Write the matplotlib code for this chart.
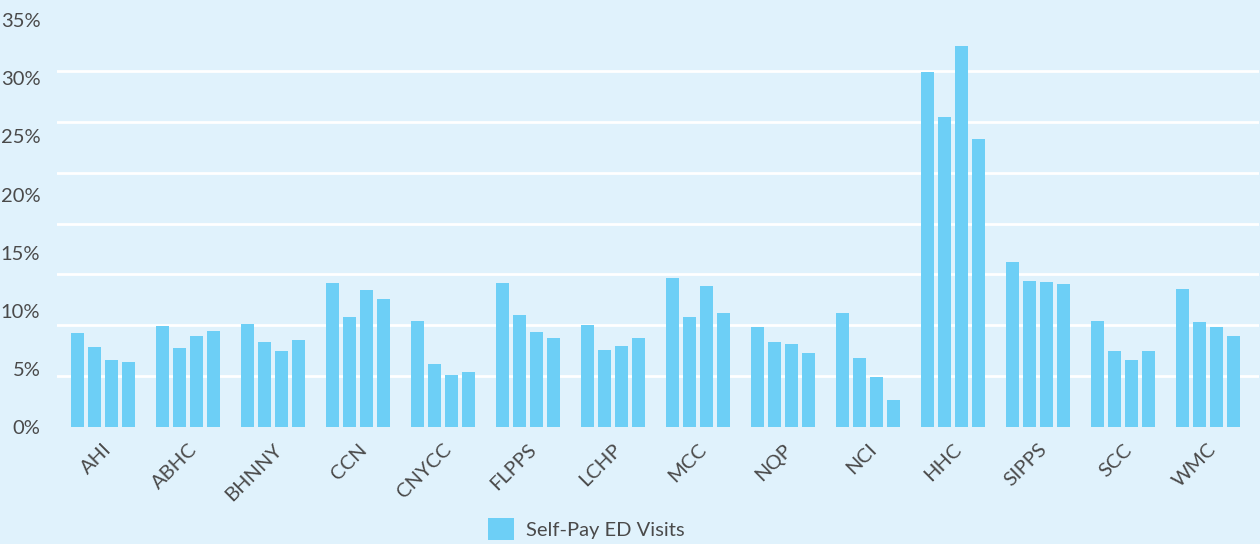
import numpy as np
import matplotlib.pyplot as plt
from matplotlib.patches import Patch

# share of ED visits that were self-pay, four periods per PPS
pps_names = ['AHI', 'ABHC', 'BHNNY', 'CCN', 'CNYCC', 'FLPPS', 'LCHP',
             'MCC', 'NQP', 'NCI', 'HHC', 'SIPPS', 'SCC', 'WMC']
period_1 = [8.1, 8.7, 8.9, 12.4, 9.1, 12.4, 8.8, 12.8, 8.6, 9.8, 30.5, 14.2, 9.1, 11.9]
period_2 = [6.9, 6.8, 7.3, 9.5, 5.4, 9.6, 6.6, 9.5, 7.3, 5.9, 26.7, 12.6, 6.5, 9.0]
period_3 = [5.8, 7.8, 6.5, 11.8, 4.5, 8.2, 7.0, 12.1, 7.1, 4.3, 32.8, 12.5, 5.8, 8.6]
period_4 = [5.6, 8.3, 7.5, 11.0, 4.7, 7.7, 7.7, 9.8, 6.4, 2.3, 24.8, 12.3, 6.5, 7.8]

BG = '#e0f2fc'
BAR = '#6dcff6'
TXT = '#4a4a4a'

plt.rcParams['font.family'] = ['Lato', 'DejaVu Sans']

fig = plt.figure(figsize=(12.6, 5.44), dpi=100, facecolor=BG)
ax = fig.add_axes([0.0452, 0.215, 0.9538, 0.748])
ax.set_facecolor(BG)

x = np.arange(len(pps_names))
width = 0.153
offsets = [-0.3, -0.1, 0.1, 0.3]
for off, vals in zip(offsets, [period_1, period_2, period_3, period_4]):
    ax.bar(x + off, vals, width=width, color=BAR, zorder=2)

ax.set_xlim(-0.541, 13.6)
ax.set_ylim(0, 35)

ax.set_yticks(np.arange(0, 36, 5))
ax.set_yticklabels([f'{v}%' for v in range(0, 36, 5)])
ax.set_yticks(np.linspace(0, 35, 9), minor=True)
ax.yaxis.grid(True, which='minor', color='white', linewidth=2.0)
ax.yaxis.grid(False, which='major')
ax.set_axisbelow(True)

ax.set_xticks(x)
ax.set_xticklabels(pps_names, rotation=45, ha='right', rotation_mode='anchor')

ax.tick_params(axis='y', which='both', length=0, pad=12, labelsize=14.5, labelcolor=TXT)
ax.tick_params(axis='x', length=0, pad=10, labelsize=14.5, labelcolor=TXT)

for s in ax.spines.values():
    s.set_visible(False)

handle = Patch(facecolor=BAR, edgecolor='none')
fig.legend([handle], ['Self-Pay ED Visits'], loc='center',
           bbox_to_anchor=(0.4655, 0.028), frameon=False, fontsize=14.5,
           handlelength=1.3, handleheight=1.3, handletextpad=0.6,
           labelcolor=TXT)

fig.savefig('out.png', dpi=100, facecolor=BG)
